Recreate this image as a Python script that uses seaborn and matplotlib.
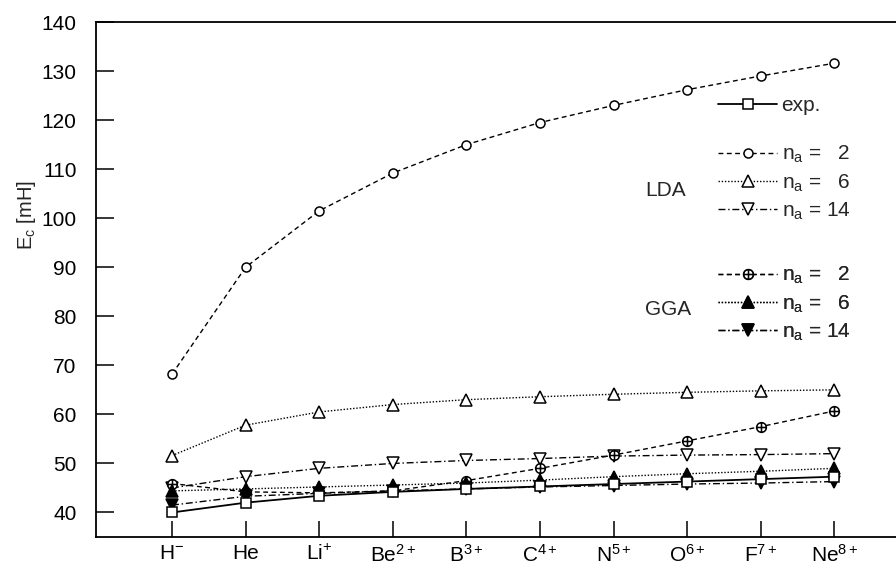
import numpy as np
import matplotlib
matplotlib.use("Agg")
import matplotlib.pyplot as plt
from matplotlib.path import Path
import seaborn as sns

# Correlation energies (mH) for the two-electron isoelectronic series
ions = [r"$\mathregular{H^{-}}$", "He", r"$\mathregular{Li^{+}}$",
        r"$\mathregular{Be^{2+}}$", r"$\mathregular{B^{3+}}$",
        r"$\mathregular{C^{4+}}$", r"$\mathregular{N^{5+}}$",
        r"$\mathregular{O^{6+}}$", r"$\mathregular{F^{7+}}$",
        r"$\mathregular{Ne^{8+}}$"]
exp_vals = [40.0, 42.0, 43.4, 44.2, 44.8, 45.3, 45.8, 46.3, 46.8, 47.3]
lda_2 = [68.2, 90.0, 101.5, 109.2, 115.0, 119.5, 123.0, 126.2, 129.0, 131.6]
lda_6 = [51.6, 57.8, 60.5, 62.0, 63.0, 63.6, 64.1, 64.5, 64.8, 65.0]
lda_14 = [45.0, 47.3, 49.0, 50.0, 50.6, 51.0, 51.5, 51.7, 51.8, 52.0]
gga_2 = [45.9, 44.2, 44.0, 44.4, 46.5, 49.0, 51.7, 54.6, 57.5, 60.7]
gga_6 = [44.4, 44.8, 45.2, 45.6, 46.0, 46.6, 47.3, 47.9, 48.4, 49.0]
gga_14 = [41.5, 43.3, 43.9, 44.4, 44.8, 45.2, 45.5, 45.8, 46.0, 46.3]
y_ticks = [40, 50, 60, 70, 80, 90, 100, 110, 120, 130, 140]

sns.set_style("ticks")
plt.rcParams["font.family"] = ["Liberation Sans", "DejaVu Sans"]
plt.rcParams["mathtext.fontset"] = "custom"
plt.rcParams["mathtext.rm"] = "Liberation Sans"
plt.rcParams["mathtext.it"] = "Liberation Sans:italic"
plt.rcParams["mathtext.bf"] = "Liberation Sans:bold"

FS = 15.0
fig = plt.figure(figsize=(8.96, 5.73), dpi=100)
ax = fig.add_axes([96 / 896, 36 / 573, 1 - 96 / 896, 515 / 573])

pos = np.arange(len(ions))

# circle with a cross inside
circ_plus = Path.make_compound_path(
    Path.unit_circle(),
    Path([(-1, 0), (1, 0), (0, -1), (0, 1)],
         [Path.MOVETO, Path.LINETO, Path.MOVETO, Path.LINETO]),
)

dashed = (0, (3.5, 2.5))
dotted = (0, (1.0, 1.3))
dashdot = (0, (5, 2, 1, 2))
LW = 1.0
MEW = 1.1

series = [
    ("lda2", lda_2, dashed, "o", "white", 6.5),
    ("lda6", lda_6, dotted, "^", "white", 8.5),
    ("lda14", lda_14, dashdot, "v", "white", 8.5),
    ("gga2", gga_2, dashed, circ_plus, "white", 7.0),
    ("gga6", gga_6, dotted, "^", "black", 8.0),
    ("gga14", gga_14, dashdot, "v", "black", 8.0),
    ("exp", exp_vals, "-", "s", "white", 6.5),
]

handles = {}
for name, vals, ls, mk, fc, ms in series:
    sns.lineplot(x=pos, y=vals, ax=ax, color="black", linestyle=ls,
                 linewidth=LW if ls != "-" else 1.3, marker=mk,
                 markersize=ms, markerfacecolor=fc, markeredgecolor="black",
                 markeredgewidth=MEW, sort=False, legend=False)
    handles[name] = ax.lines[-1]

ax.set_xlim(-1.033, 9.837)
ax.set_ylim(35, 140)
ax.set_xticks(pos)
ax.set_xticklabels(ions, fontsize=FS)
ax.set_yticks(y_ticks)
ax.set_yticklabels([str(t) for t in y_ticks], fontsize=FS)
ax.tick_params(axis="y", direction="in", length=13, width=1.1, pad=14,
               colors="black")
ax.tick_params(axis="x", direction="in", length=11.5, width=1.1, pad=5,
               colors="black")
ax.set_xlabel("")
ax.set_ylabel(r"$\mathregular{E_c}$ [mH]", fontsize=FS - 0.5)
ax.yaxis.set_label_coords(-0.072, 0.625)

for side in ("left", "bottom", "top"):
    ax.spines[side].set_linewidth(1.3)
    ax.spines[side].set_color("black")
ax.spines["right"].set_visible(False)

leg_kw = dict(frameon=False, fontsize=FS, numpoints=1, handlelength=2.85,
              handletextpad=0.2, borderpad=0, borderaxespad=0,
              loc="upper left")

leg_exp = ax.legend([handles["exp"]], ["exp."],
                    bbox_to_anchor=(0.7775, 0.856), **leg_kw)
ax.add_artist(leg_exp)

na = r"$\mathregular{n_a}$"
labels_n = [na + " =   2", na + " =   6", na + " = 14"]

leg_lda = ax.legend([handles["lda2"], handles["lda6"], handles["lda14"]],
                    labels_n, bbox_to_anchor=(0.7775, 0.763),
                    labelspacing=0.33, **leg_kw)
ax.add_artist(leg_lda)

leg_gga = ax.legend([handles["gga2"], handles["gga6"], handles["gga14"]],
                    labels_n, bbox_to_anchor=(0.7775, 0.528),
                    labelspacing=0.33, **leg_kw)
ax.add_artist(leg_gga)

ax.text(0.686, 0.672, "LDA", transform=ax.transAxes, fontsize=FS,
        ha="left", va="center")
ax.text(0.686, 0.441, "GGA", transform=ax.transAxes, fontsize=FS,
        ha="left", va="center")

fig.savefig("out.png", dpi=100, facecolor="white")
